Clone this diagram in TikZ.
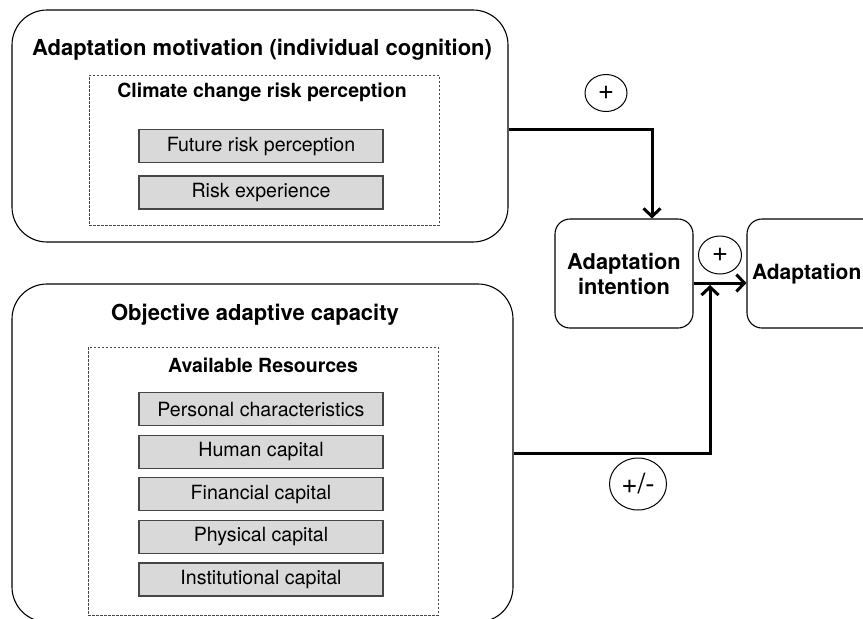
\documentclass[tikz,border=0pt]{standalone}
\usepackage{fontspec}
\setmainfont{TeX Gyre Heros}
\usepackage{tikz}
\usetikzlibrary{shapes.geometric, arrows.meta}

\definecolor{itemgray}{RGB}{217,217,217}
\definecolor{edgegray}{RGB}{70,70,70}

\begin{document}
\begin{tikzpicture}[
  x=1pt, y=-1pt,
  every node/.style={align=center, inner sep=0pt},
  outerbox/.style={rectangle, draw, rounded corners=35pt, line width=1.1pt},
  groupbox/.style={rectangle, draw=edgegray, line width=0.9pt, dash pattern=on 2.5pt off 1.5pt},
  itembox/.style={rectangle, draw=edgegray, line width=1.2pt, fill=itemgray, minimum width=244pt, minimum height=33pt, font=\fontsize{19.6}{22}\selectfont},
  stagebox/.style={rectangle, draw, rounded corners=15pt, line width=1.1pt, minimum width=138pt, minimum height=109pt, font=\fontsize{21.8}{25}\selectfont\bfseries},
  sign/.style={ellipse, draw, line width=1pt, font=\fontsize{28}{30}\selectfont},
  heading/.style={font=\fontsize{22}{26}\selectfont\bfseries},
  subheading/.style={font=\fontsize{19.5}{23}\selectfont\bfseries},
  link/.style={line width=3pt, -{Straight Barb[length=8pt,width=17pt,line width=3pt]}}
  ]
\useasboundingbox (0,0) rectangle (863,619);

% Motivation block
\node[outerbox, minimum width=496pt, minimum height=232pt] (motiv) at (260,126) {};
\node[heading] (motivtitle) at (262,50) {Adaptation motivation (individual cognition)};
\node[groupbox, minimum width=350pt, minimum height=150pt] (riskgroup) at (264,150) {};
\node[subheading] (risktitle) at (262,92) {Climate change risk perception};
\node[itembox] (future) at (261,146) {Future risk perception};
\node[itembox] (experience) at (261,192.5) {Risk experience};

% Capacity block
\node[outerbox, minimum width=501pt, minimum height=338pt] (capac) at (262.5,453) {};
\node[heading] (capactitle) at (255,315) {Objective adaptive capacity};
\node[groupbox, minimum width=350pt, minimum height=268pt] (resgroup) at (263,481) {};
\node[subheading] (restitle) at (263,365) {Available Resources};
\foreach \name/\txt [count=\i from 0] in {personal/Personal characteristics, human/Human capital, financial/Financial capital, physical/Physical capital, institutional/Institutional capital}
  \node[itembox] (\name) at (261,409+42.6*\i) {\txt};

% Stages
\node[stagebox] (intent) at (624,273.5) {Adaptation\\ intention};
\node[stagebox, text width=128pt, align=left, font=\fontsize{21}{24}\selectfont\bfseries] (adapt) at (816,273.5) {Adaptation};

% Signs
\node[sign, minimum width=42pt, minimum height=37pt] (plusmotiv) at (606,93) {+};
\node[sign, minimum width=43pt, minimum height=38pt] (plusintent) at (720,255) {+};
\node[sign, minimum width=57pt, minimum height=52pt] (pmcapac) at (638,484) {+/-};

% Arrows
\coordinate (join) at (710,285);
\draw[link] ([yshift=-3pt]motiv.east) -| ([xshift=28pt]intent.north);
\draw[link] ([yshift=-9.5pt]intent.east) -- ([yshift=-9.5pt]adapt.west);
\draw[link] (capac.east) -| (join);

\end{tikzpicture}
\end{document}
